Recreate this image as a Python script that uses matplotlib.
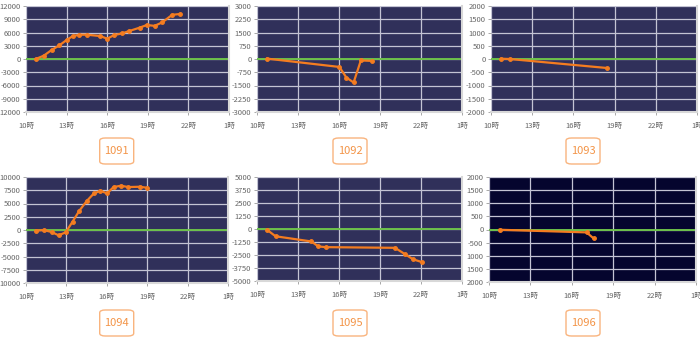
import matplotlib
matplotlib.use("Agg")
import matplotlib.pyplot as plt
from matplotlib.patches import FancyBboxPatch

plt.rcParams['font.family'] = ['Noto Sans CJK JP', 'DejaVu Sans']

# station codes
codes = ['1091', '1092', '1093', '1094', '1095', '1096']

# hours (10 = 10時, 25 = 翌1時) and values per panel
x1091 = [10.72, 11.31, 11.9, 12.47, 13.0, 13.46, 13.95, 14.5, 15.48, 16.0, 16.5,
         17.1, 17.6, 18.4, 18.93, 19.5, 20.07, 20.8, 21.4]
y1091 = [0, 750, 2050, 3100, 4300, 5200, 5500, 5500, 5200, 4600, 5400,
         5800, 6300, 7100, 7700, 7500, 8300, 10000, 10200]
x1092 = [10.75, 16.03, 16.54, 17.07, 17.6, 18.45]
y1092 = [20, -450, -1050, -1330, -80, -110]
x1093 = [10.75, 11.36, 18.45]
y1093 = [10, 0, -340]
x1094 = [10.72, 11.31, 11.9, 12.42, 12.95, 13.46, 13.95, 14.5, 15.04, 15.53,
         16.02, 16.5, 17.05, 17.6, 18.43, 19.0]
y1094 = [-130, 0, -380, -1000, -440, 1580, 3600, 5440, 6900, 7400,
         6900, 8100, 8350, 8100, 8160, 7970]
x1095 = [10.75, 11.36, 13.98, 14.49, 15.05, 20.1, 20.85, 21.43, 22.04]
y1095 = [-95, -700, -1200, -1680, -1745, -1810, -2440, -2920, -3170]
x1096 = [10.77, 17.07, 17.58]
y1096 = [-10, -110, -340]

xs = [x1091, x1092, x1093, x1094, x1095, x1096]
ys = [y1091, y1092, y1093, y1094, y1095, y1096]

# y axis limits / tick labels (as shown, some minus signs clipped)
ylims = [12000, 3000, 2000, 10000, 5000, 2000]
ytick_labels = [
    ['12000', '-9000', '-6000', '-3000', '0', '3000', '6000', '9000', '12000'],
    ['-3000', '-2250', '-1500', '-750', '0', '750', '1500', '2250', '3000'],
    ['-2000', '-1500', '-1000', '-500', '0', '500', '1000', '1500', '2000'],
    ['10000', '-7500', '-5000', '-2500', '0', '2500', '5000', '7500', '10000'],
    ['-5000', '-3750', '-2500', '-1250', '0', '1250', '2500', '3750', '5000'],
    ['2000', '1500', '1000', '-500', '0', '500', '1000', '1500', '2000'],
]
xticks = [10, 13, 16, 19, 22, 25]
xtick_labels = ['10時', '13時', '16時', '19時', '22時', '1時']

bg = ['#30305a'] * 5 + ['#05052e']

# plot-area boxes in pixels (x0, y0, x1, y1), top-left origin
boxes = [(26, 6, 229, 112), (257, 6, 462, 112), (491, 6, 697, 112),
         (26, 177, 228, 283), (257, 177, 462, 281), (489, 177, 696, 282)]
label_centers = [(116.7, 151), (350, 151), (583, 151),
                 (116.7, 323), (350, 323), (583, 323)]

W, H = 700, 341
fig = plt.figure(figsize=(7, 3.41), dpi=100)

for i in range(6):
    x0, y0, x1, y1 = boxes[i]
    ax = fig.add_axes([x0 / W, (H - y1) / H, (x1 - x0) / W, (y1 - y0) / H])
    ax.set_facecolor(bg[i])
    lim = ylims[i]
    yt = [lim * k / 4 for k in range(-4, 5)]
    ax.set_xlim(10, 25)
    ax.set_ylim(-lim, lim)
    ax.set_yticks(yt)
    ax.set_yticklabels(ytick_labels[i])
    ax.set_xticks(xticks)
    ax.set_xticklabels(xtick_labels)
    ax.grid(True, color='#c4c4d4', linewidth=0.9)
    ax.set_axisbelow(True)
    ax.axhline(0, color='#6cc04a', linewidth=1.4, zorder=2)
    ax.plot(xs[i], ys[i], color='#f47c20', linewidth=1.6, marker='o',
            markersize=2.5, zorder=3)
    ax.tick_params(labelsize=5.5, colors='#999999', length=2, width=0.6,
                   pad=2, labelcolor='#666666')
    ax.tick_params(axis='x', pad=5)
    for s in ['top', 'left']:
        ax.spines[s].set_visible(False)
    for s in ['right', 'bottom']:
        ax.spines[s].set_color('#d8d8d8')
        ax.spines[s].set_linewidth(1.5)

    cx, cy = label_centers[i]
    bw, bh = 34, 26
    patch = FancyBboxPatch(((cx - bw / 2) / W, (H - cy - bh / 2) / H), bw / W, bh / H,
                           boxstyle='round,pad=0,rounding_size=0.008',
                           transform=fig.transFigure, facecolor='white',
                           edgecolor='#f9b47e', linewidth=1.0)
    fig.patches.append(patch)
    fig.text(cx / W, (H - cy) / H, codes[i], ha='center', va='center',
             fontsize=8, color='#f39447')

plt.savefig('out.png', dpi=100)
